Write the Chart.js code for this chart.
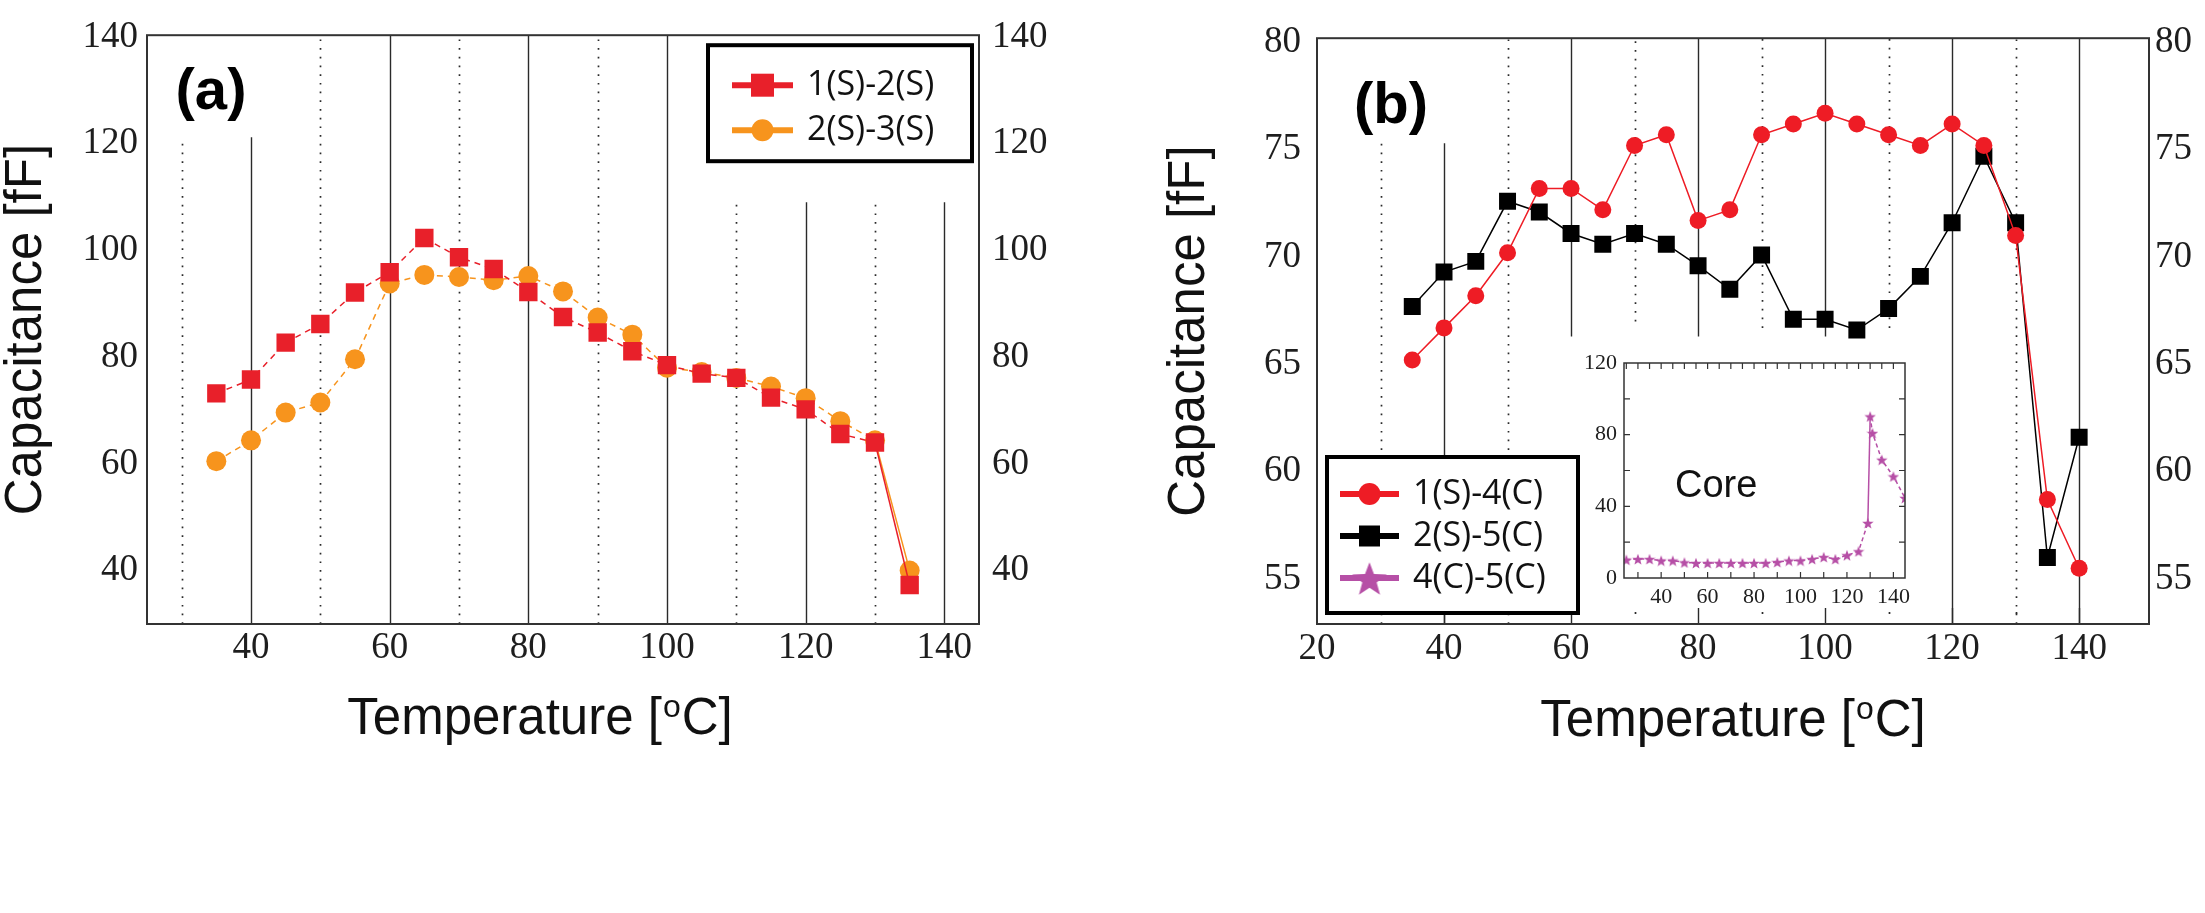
<!DOCTYPE html>
<html>
<head>
<meta charset="utf-8">
<title>Capacitance vs temperature</title>
<script src="https://cdn.jsdelivr.net/npm/chart.js@4.4.1/dist/chart.umd.min.js"></script>
<style>
  html, body { margin: 0; padding: 0; background: #fff; }
  #page { position: relative; width: 2205px; height: 913px; overflow: hidden; background: #fff; }
  .panel { position: absolute; }
  #panelA { left: 0; top: 0; width: 1100px; height: 913px; }
  #panelB { left: 1100px; top: 0; width: 1105px; height: 913px; }
  #panelInset { left: 1560px; top: 340px; width: 370px; height: 280px; }
</style>
</head>
<body>
<div id="page">
  <div class="panel" id="panelA"><canvas id="chartA"></canvas></div>
  <div class="panel" id="panelB"><canvas id="chartB"></canvas></div>
  <div class="panel" id="panelInset"><canvas id="chartInset"></canvas></div>
</div>
<script>
// ============================
// Data
// ============================

// panel (a)
const tempA = [35, 40, 45, 50, 55, 60, 65, 70, 75, 80, 85, 90, 95, 100, 105, 110, 115, 120, 125, 130, 135];
const cap12 = [73.2, 75.8, 82.7, 86.2, 92.1, 95.9, 102.3, 98.7, 96.5, 92.2, 87.5, 84.6, 81.1, 78.5, 76.9, 76.1, 72.4, 70.2, 65.6, 64.0, 37.3];
const cap23 = [60.5, 64.4, 69.6, 71.5, 79.6, 93.8, 95.4, 95.0, 94.4, 95.2, 92.3, 87.4, 84.2, 78.0, 77.2, 76.1, 74.5, 72.3, 68.0, 64.4, 40.0];

// panel (b)
const tempB = [35, 40, 45, 50, 55, 60, 65, 70, 75, 80, 85, 90, 95, 100, 105, 110, 115, 120, 125, 130, 135, 140];
const cap14 = [65.2, 66.7, 68.2, 70.2, 73.2, 73.2, 72.2, 75.2, 75.7, 71.7, 72.2, 75.7, 76.2, 76.7, 76.2, 75.7, 75.2, 76.2, 75.2, 71.0, 58.7, 55.5];
const cap25 = [67.7, 69.3, 69.8, 72.6, 72.1, 71.1, 70.6, 71.1, 70.6, 69.6, 68.5, 70.1, 67.1, 67.1, 66.6, 67.6, 69.1, 71.6, 74.7, 71.6, 56.0, 61.6];

// inset "Core"
const tempCore = [25, 30, 35, 40, 45, 50, 55, 60, 65, 70, 75, 80, 85, 90, 95, 100, 105, 110, 115, 120, 125, 129, 130, 131, 135, 140, 145];
const cap45 = [10.2, 10.6, 10.6, 9.7, 9.7, 8.7, 8.4, 8.4, 8.4, 8.4, 8.4, 8.4, 8.4, 8.9, 9.7, 9.7, 10.6, 11.7, 10.6, 12.7, 14.9, 30.7, 90.2, 80.9, 66.0, 56.7, 44.7];

// tick labels
const xTicksA = [40, 60, 80, 100, 120, 140];
const yTicksA = [40, 60, 80, 100, 120, 140];
const xTicksB = [20, 40, 60, 80, 100, 120, 140];
const yTicksB = [55, 60, 65, 70, 75, 80];
const xTicksCore = [40, 60, 80, 100, 120, 140];
const yTicksCore = [0, 40, 80, 120];

const yTitle = 'Capacitance [fF]';
const xTitleParts = ['Temperature [', 'o', 'C]'];
const coreLabel = 'Core';

// ============================
// Styling
// ============================

const SERIF = "'Liberation Serif', 'Times New Roman', serif";
const SANS = "'Liberation Sans', Arial, sans-serif";
const LEGEND_FONT = "'Open Sans', 'Liberation Sans', sans-serif";
const TICK_COLOR = '#1e1e1e';

const RED_A = '#e8202a';
const ORANGE = '#f7941d';
const RED_B = '#ee1c25';
const BLACK = '#000000';
const MAGENTA = '#b64fa6';

function starCanvas(size, color) {
    const c = document.createElement('canvas');
    c.width = size;
    c.height = size;
    const g = c.getContext('2d');
    g.fillStyle = color;
    g.beginPath();
    for (let i = 0; i < 10; i++) {
        const r = i % 2 ? size * 0.21 : size * 0.5;
        const a = -Math.PI / 2 + i * Math.PI / 5;
        g.lineTo(size / 2 + r * Math.cos(a), size / 2 + 0.06 * size + r * Math.sin(a));
    }
    g.closePath();
    g.fill();
    return c;
}

const starSmall = starCanvas(12, MAGENTA);
const starLegend = starCanvas(36, MAGENTA);

const pts = (xs, ys) => xs.map((x, i) => ({ x: x, y: ys[i] }));
const fixTicks = list => scale => { scale.ticks = list.map(v => ({ value: v })); };
const fixWidth = w => scale => { scale.width = w; };
const fixHeight = h => scale => { scale.height = h; };

function drawMarker(ctx, style, size, x, y, color) {
    ctx.fillStyle = color;
    if (style === 'rect') {
        ctx.fillRect(x - size / 2, y - size / 2, size, size);
    } else if (style === 'circle') {
        ctx.beginPath();
        ctx.arc(x, y, size / 2, 0, Math.PI * 2);
        ctx.fill();
    } else {
        ctx.drawImage(style, x - style.width / 2, y - style.height / 2);
    }
}

// gridlines, frame, panel label, x title and boxed legend for a main panel
function makeDecor(cfg) {
    return {
        id: 'panelDecor',
        beforeDatasetsDraw(chart) {
            const { ctx, chartArea: a } = chart;
            const sx = chart.scales.x;
            const sy = chart.scales.y;
            ctx.save();
            ctx.beginPath();
            ctx.rect(a.left, a.top, a.right - a.left, a.bottom - a.top);
            ctx.clip();
            ctx.strokeStyle = '#2a2a2a';
            cfg.grid.forEach(g => {
                const px = Math.round(sx.getPixelForValue(g.at)) + 0.5;
                const yLow = g.from == null ? a.bottom : sy.getPixelForValue(g.from);
                const yHigh = g.to == null ? a.top : sy.getPixelForValue(g.to);
                ctx.lineWidth = g.dotted ? 1.7 : 1.4;
                ctx.setLineDash(g.dotted ? [1.7, 7] : []);
                ctx.beginPath();
                ctx.moveTo(px, yLow);
                ctx.lineTo(px, yHigh);
                ctx.stroke();
                // short tick marks along the bottom edge
                if (cfg.stubs) {
                    ctx.setLineDash([]);
                    ctx.beginPath();
                    if (g.dotted) {
                        ctx.moveTo(px, a.bottom - 12);
                        ctx.lineTo(px, a.bottom - 10);
                    } else {
                        ctx.moveTo(px, a.bottom);
                        ctx.lineTo(px, a.bottom - 16);
                    }
                    ctx.stroke();
                }
            });
            ctx.restore();
        },
        afterDraw(chart) {
            const { ctx, chartArea: a } = chart;
            ctx.save();

            // plot frame
            ctx.setLineDash([]);
            ctx.lineWidth = 2;
            ctx.strokeStyle = '#333';
            ctx.strokeRect(a.left, a.top, a.right - a.left, a.bottom - a.top);

            // panel label
            ctx.fillStyle = '#000';
            ctx.font = 'bold 58px ' + SANS;
            ctx.textAlign = 'center';
            ctx.textBaseline = 'middle';
            ctx.fillText(cfg.panel.text, a.left + cfg.panel.dx, a.top + cfg.panel.dy);

            // x title with superscript o
            const big = '51px ' + SANS;
            const small = '32px ' + SANS;
            ctx.textAlign = 'left';
            ctx.textBaseline = 'alphabetic';
            ctx.font = big;
            const w0 = ctx.measureText(xTitleParts[0]).width;
            const w2 = ctx.measureText(xTitleParts[2]).width;
            ctx.font = small;
            const w1 = ctx.measureText(xTitleParts[1]).width + 2;
            let tx = (a.left + a.right) / 2 + cfg.titleDx - (w0 + w1 + w2) / 2;
            const ty = a.bottom + cfg.titleDy;
            ctx.fillStyle = '#111';
            ctx.font = big;
            ctx.fillText(xTitleParts[0], tx, ty);
            tx += w0;
            ctx.font = small;
            ctx.fillText(xTitleParts[1], tx + 1, ty - 17);
            tx += w1;
            ctx.font = big;
            ctx.fillText(xTitleParts[2], tx, ty);

            // legend box
            const L = cfg.legend;
            const bx = L.fromRight != null ? a.right - L.fromRight - L.width : a.left + L.fromLeft;
            const by = L.fromTop != null ? a.top + L.fromTop : a.bottom - L.fromBottom - L.height;
            ctx.fillStyle = '#fff';
            ctx.fillRect(bx, by, L.width, L.height);
            ctx.lineWidth = 4;
            ctx.strokeStyle = '#000';
            ctx.strokeRect(bx, by, L.width, L.height);
            L.items.forEach((it, i) => {
                const y = by + L.firstRow + i * L.rowGap;
                ctx.strokeStyle = it.color;
                ctx.lineWidth = 6;
                ctx.beginPath();
                ctx.moveTo(bx + L.lineFrom, y);
                ctx.lineTo(bx + L.lineTo, y);
                ctx.stroke();
                drawMarker(ctx, it.style, it.size, bx + (L.lineFrom + L.lineTo) / 2, y, it.color);
                ctx.fillStyle = '#111';
                ctx.font = L.fontSize + 'px ' + LEGEND_FONT;
                ctx.textBaseline = 'middle';
                ctx.fillText(it.label, bx + L.textX, y);
            });
            ctx.restore();
        }
    };
}

function tickScales(spec) {
    const tickFont = { family: SERIF, size: spec.tickSize };
    const axisY = (pos, width, pad, withTitle) => ({
        type: 'linear',
        position: pos,
        min: spec.yMin,
        max: spec.yMax,
        afterBuildTicks: fixTicks(spec.yTicks),
        afterFit: fixWidth(width),
        grid: { display: false, drawTicks: false },
        border: { display: false },
        ticks: { font: tickFont, color: TICK_COLOR, padding: pad },
        title: {
            display: withTitle,
            text: yTitle,
            color: '#111',
            font: { family: SANS, size: 51, lineHeight: 1 },
            padding: { top: spec.yTitlePad, bottom: 0 }
        }
    });
    return {
        x: {
            type: 'linear',
            min: spec.xMin,
            max: spec.xMax,
            afterBuildTicks: fixTicks(spec.xTicks),
            afterFit: fixHeight(spec.xHeight),
            grid: { display: false, drawTicks: false },
            border: { display: false },
            ticks: { font: tickFont, color: TICK_COLOR, padding: spec.xPad, maxRotation: 0, autoSkip: false }
        },
        y: axisY('left', spec.leftW, spec.leftPad, true),
        y2: axisY('right', spec.rightW, spec.rightPad, false)
    };
}

const baseOptions = (scales, top) => ({
    responsive: true,
    maintainAspectRatio: false,
    animation: false,
    layout: { padding: { top: top, left: 0, right: 0, bottom: 0 }, autoPadding: false },
    plugins: { legend: { display: false }, tooltip: { enabled: false } },
    scales: scales
});

// ============================
// Panel (a)
// ============================

const lastDropSolid = { borderDash: c => (c.p1.parsed.x > 130 ? [] : undefined) };

const datasetsA = [
    {
        label: '1(S)-2(S)', data: pts(tempA, cap12),
        borderColor: RED_A, backgroundColor: RED_A, borderWidth: 1.5, borderDash: [6, 5],
        pointStyle: 'rect', pointRadius: 13, pointBorderWidth: 0, tension: 0, segment: lastDropSolid
    },
    {
        label: '2(S)-3(S)', data: pts(tempA, cap23),
        borderColor: ORANGE, backgroundColor: ORANGE, borderWidth: 1.5, borderDash: [6, 5],
        pointStyle: 'circle', pointRadius: 10, pointBorderWidth: 0, tension: 0, segment: lastDropSolid
    }
];

const decorA = {
    stubs: false,
    panel: { text: '(a)', dx: 64, dy: 58 },
    titleDx: -23,
    titleDy: 110,
    grid: [
        { at: 30, dotted: true, to: 120 },
        { at: 40, dotted: false, to: 121.2 },
        { at: 50, dotted: true },
        { at: 60, dotted: false },
        { at: 70, dotted: true },
        { at: 80, dotted: false },
        { at: 90, dotted: true },
        { at: 100, dotted: false },
        { at: 110, dotted: true, to: 109 },
        { at: 120, dotted: false, to: 109 },
        { at: 130, dotted: true, to: 109 },
        { at: 140, dotted: false, to: 109 }
    ],
    legend: {
        fromRight: 7, fromTop: 10, width: 264, height: 116,
        firstRow: 40, rowGap: 45, lineFrom: 24, lineTo: 85, textX: 99, fontSize: 34,
        items: [
            { label: datasetsA[0].label, color: RED_A, style: 'rect', size: 23 },
            { label: datasetsA[1].label, color: ORANGE, style: 'circle', size: 22 }
        ]
    }
};

new Chart(document.getElementById('chartA'), {
    type: 'line',
    data: { datasets: datasetsA },
    options: baseOptions(tickScales({
        xMin: 25, xMax: 145, xTicks: xTicksA, xHeight: 289, xPad: 2,
        yMin: 30, yMax: 140.3, yTicks: yTicksA,
        leftW: 147, leftPad: 9, rightW: 121, rightPad: 13,
        tickSize: 37, yTitlePad: 1.5
    }), 18),
    plugins: [makeDecor(decorA)]
});

// ============================
// Panel (b)
// ============================

const datasetsB = [
    {
        label: '1(S)-4(C)', data: pts(tempB, cap14),
        borderColor: RED_B, backgroundColor: RED_B, borderWidth: 1.5,
        pointStyle: 'circle', pointRadius: 8.5, pointBorderWidth: 0, tension: 0
    },
    {
        label: '2(S)-5(C)', data: pts(tempB, cap25),
        borderColor: BLACK, backgroundColor: BLACK, borderWidth: 1.5,
        pointStyle: 'rect', pointRadius: 12, pointBorderWidth: 0, tension: 0
    }
];

const datasetCore = {
    label: '4(C)-5(C)', data: pts(tempCore, cap45),
    borderColor: MAGENTA, backgroundColor: MAGENTA, borderWidth: 1.5, borderDash: [4, 3],
    pointStyle: starSmall, pointRadius: 6, tension: 0,
    segment: { borderDash: c => (c.p1.parsed.y - c.p0.parsed.y > 30 ? [] : undefined) }
};

const decorB = {
    stubs: true,
    panel: { text: '(b)', dx: 74, dy: 69 },
    titleDx: 0,
    titleDy: 112,
    grid: [
        { at: 30, dotted: true, to: 75.3 },
        { at: 40, dotted: false, to: 75.3 },
        { at: 50, dotted: true },
        { at: 60, dotted: false, from: 66.3 },
        { at: 70, dotted: true, from: 67.0 },
        { at: 80, dotted: false, from: 66.3 },
        { at: 90, dotted: true, from: 66.7 },
        { at: 100, dotted: false, from: 66.3 },
        { at: 110, dotted: true, from: 66.7 },
        { at: 120, dotted: false },
        { at: 130, dotted: true },
        { at: 140, dotted: false }
    ],
    legend: {
        fromLeft: 10, fromBottom: 11, width: 251, height: 156,
        firstRow: 37, rowGap: 42, lineFrom: 13, lineTo: 72, textX: 86, fontSize: 34,
        items: [
            { label: datasetsB[0].label, color: RED_B, style: 'circle', size: 22 },
            { label: datasetsB[1].label, color: BLACK, style: 'rect', size: 21 },
            { label: datasetCore.label, color: MAGENTA, style: starLegend, size: 36 }
        ]
    }
};

new Chart(document.getElementById('chartB'), {
    type: 'line',
    data: { datasets: datasetsB },
    options: baseOptions(tickScales({
        xMin: 20, xMax: 151, xTicks: xTicksB, xHeight: 289, xPad: 3,
        yMin: 52.9, yMax: 80.2, yTicks: yTicksB,
        leftW: 217, leftPad: 16, rightW: 56, rightPad: 6,
        tickSize: 37, yTitlePad: 64.5
    }), 18),
    plugins: [makeDecor(decorB)]
});

// ============================
// Inset (Core)
// ============================

const insetDecor = {
    id: 'insetDecor',
    beforeDraw(chart) {
        const { ctx, chartArea: a } = chart;
        ctx.save();
        ctx.fillStyle = '#fff';
        ctx.fillRect(a.left, a.top, a.right - a.left, a.bottom - a.top);
        ctx.restore();
    },
    afterDraw(chart) {
        const { ctx, chartArea: a } = chart;
        const sx = chart.scales.x;
        const sy = chart.scales.y;
        ctx.save();
        ctx.strokeStyle = '#333';
        ctx.lineWidth = 1.5;
        ctx.strokeRect(a.left, a.top, a.right - a.left, a.bottom - a.top);
        ctx.lineWidth = 1.2;
        ctx.beginPath();
        for (let v = 25; v <= 145; v += 5) {
            const px = sx.getPixelForValue(v);
            if (px <= a.left + 1 || px >= a.right - 1) continue;
            ctx.moveTo(px, a.top);
            ctx.lineTo(px, a.top + 6);
            if (v % 10 === 0) {
                ctx.moveTo(px, a.bottom);
                ctx.lineTo(px, a.bottom - 6);
            }
        }
        for (let v = 20; v < 120; v += 20) {
            const py = sy.getPixelForValue(v);
            ctx.moveTo(a.left, py);
            ctx.lineTo(a.left + 6, py);
            ctx.moveTo(a.right, py);
            ctx.lineTo(a.right - 6, py);
        }
        ctx.stroke();
        ctx.fillStyle = '#111';
        ctx.font = '38px ' + SANS;
        ctx.textAlign = 'left';
        ctx.textBaseline = 'alphabetic';
        ctx.fillText(coreLabel, a.left + 51, a.top + 134);
        ctx.restore();
    }
};

new Chart(document.getElementById('chartInset'), {
    type: 'line',
    data: { datasets: [datasetCore] },
    options: {
        responsive: true,
        maintainAspectRatio: false,
        animation: false,
        layout: { padding: { top: 23, right: 25, left: 0, bottom: 0 }, autoPadding: false },
        plugins: { legend: { display: false }, tooltip: { enabled: false } },
        scales: {
            x: {
                type: 'linear', min: 24, max: 145,
                afterBuildTicks: fixTicks(xTicksCore),
                afterFit: fixHeight(42),
                grid: { display: false, drawTicks: false },
                border: { display: false },
                ticks: { font: { family: SERIF, size: 22 }, color: TICK_COLOR, padding: 6, maxRotation: 0, autoSkip: false }
            },
            y: {
                type: 'linear', min: 0, max: 120,
                afterBuildTicks: fixTicks(yTicksCore),
                afterFit: fixWidth(64),
                grid: { display: false, drawTicks: false },
                border: { display: false },
                ticks: { font: { family: SERIF, size: 22 }, color: TICK_COLOR, padding: 7 }
            }
        }
    },
    plugins: [insetDecor]
});
</script>
</body>
</html>
